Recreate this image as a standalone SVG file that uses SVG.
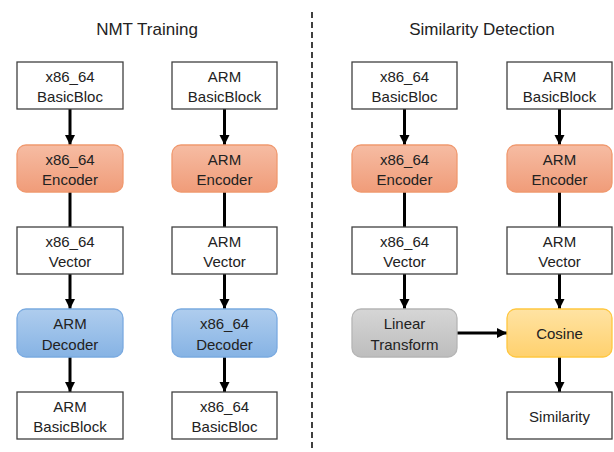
<svg xmlns="http://www.w3.org/2000/svg" width="614" height="452" viewBox="0 0 614 452">
<defs>
<linearGradient id="gOr" x1="0" y1="0" x2="0" y2="1"><stop offset="0" stop-color="#F6BCA3"/><stop offset="1" stop-color="#F09C79"/></linearGradient>
<linearGradient id="gBl" x1="0" y1="0" x2="0" y2="1"><stop offset="0" stop-color="#AFCDEE"/><stop offset="1" stop-color="#86B3E4"/></linearGradient>
<linearGradient id="gGr" x1="0" y1="0" x2="0" y2="1"><stop offset="0" stop-color="#D6D6D6"/><stop offset="1" stop-color="#BDBDBD"/></linearGradient>
<linearGradient id="gYe" x1="0" y1="0" x2="0" y2="1"><stop offset="0" stop-color="#FFE3A3"/><stop offset="1" stop-color="#FFD16E"/></linearGradient>
<marker id="ah" viewBox="0 0 10 10" refX="10" refY="5" markerWidth="3.4" markerHeight="3.4" orient="auto" markerUnits="strokeWidth"><path d="M0,0 L10,5 L0,10 Z" fill="#000"/></marker>
</defs>
<style>
.t{font-family:"Liberation Sans",Arial,sans-serif;font-size:15px;fill:#222;text-anchor:middle}
.h{font-family:"Liberation Sans",Arial,sans-serif;font-size:17px;fill:#222;text-anchor:middle}
.w{fill:#fff;stroke:#404040;stroke-width:1.3}
.or{fill:url(#gOr);stroke:#F0996F;stroke-width:1.3}
.bl{fill:url(#gBl);stroke:#7AAAE0;stroke-width:1.3}
.gr{fill:url(#gGr);stroke:#B5B5B5;stroke-width:1.3}
.ye{fill:url(#gYe);stroke:#FFC740;stroke-width:1.3}
.c{stroke:#000;stroke-width:3;fill:none}
.a{stroke:#000;stroke-width:3;fill:none;marker-end:url(#ah)}
</style>
<text class="h" x="147" y="35">NMT Training</text>
<text class="h" x="482" y="35">Similarity Detection</text>
<line x1="312" y1="12" x2="312" y2="452" stroke="#000" stroke-width="1.5" stroke-dasharray="6,4"/>
<g id="connectors">
<line class="a" x1="70" y1="109" x2="70" y2="145"/>
<line class="c" x1="70" y1="192" x2="70" y2="227"/>
<line class="a" x1="70" y1="274" x2="70" y2="309"/>
<line class="a" x1="70" y1="357" x2="70" y2="392"/>
<line class="a" x1="224.5" y1="109" x2="224.5" y2="145"/>
<line class="c" x1="224.5" y1="192" x2="224.5" y2="227"/>
<line class="a" x1="224.5" y1="274" x2="224.5" y2="309"/>
<line class="a" x1="224.5" y1="357" x2="224.5" y2="392"/>
<line class="a" x1="404.5" y1="109" x2="404.5" y2="145"/>
<line class="c" x1="404.5" y1="192" x2="404.5" y2="227"/>
<line class="a" x1="404.5" y1="274" x2="404.5" y2="309"/>
<line class="a" x1="559.5" y1="109" x2="559.5" y2="145"/>
<line class="c" x1="559.5" y1="192" x2="559.5" y2="227"/>
<line class="a" x1="559.5" y1="274" x2="559.5" y2="309"/>
<line class="a" x1="559.5" y1="357" x2="559.5" y2="392"/>
<line class="a" x1="456" y1="333" x2="507" y2="333"/>
</g>
<g id="l_bb1"><rect class="w" x="17" y="62" width="106" height="47"/><text class="t" x="70" y="82">x86_64</text><text class="t" x="70" y="102">BasicBloc</text></g>
<g id="l_enc1"><rect class="or" x="17" y="145" width="106" height="47" rx="9"/><text class="t" x="70" y="165">x86_64</text><text class="t" x="70" y="185">Encoder</text></g>
<g id="l_vec1"><rect class="w" x="17" y="227" width="106" height="47"/><text class="t" x="70" y="247">x86_64</text><text class="t" x="70" y="267">Vector</text></g>
<g id="l_dec1"><rect class="bl" x="17" y="309" width="106" height="48" rx="9"/><text class="t" x="70" y="329">ARM</text><text class="t" x="70" y="350">Decoder</text></g>
<g id="l_out1"><rect class="w" x="17" y="392" width="106" height="47"/><text class="t" x="70" y="412">ARM</text><text class="t" x="70" y="432">BasicBlock</text></g>
<g id="l_bb2"><rect class="w" x="172" y="62" width="105" height="47"/><text class="t" x="224.5" y="82">ARM</text><text class="t" x="224.5" y="102">BasicBlock</text></g>
<g id="l_enc2"><rect class="or" x="172" y="145" width="105" height="47" rx="9"/><text class="t" x="224.5" y="165">ARM</text><text class="t" x="224.5" y="185">Encoder</text></g>
<g id="l_vec2"><rect class="w" x="172" y="227" width="105" height="47"/><text class="t" x="224.5" y="247">ARM</text><text class="t" x="224.5" y="267">Vector</text></g>
<g id="l_dec2"><rect class="bl" x="172" y="309" width="105" height="48" rx="9"/><text class="t" x="224.5" y="329">x86_64</text><text class="t" x="224.5" y="350">Decoder</text></g>
<g id="l_out2"><rect class="w" x="172" y="392" width="105" height="47"/><text class="t" x="224.5" y="412">x86_64</text><text class="t" x="224.5" y="432">BasicBloc</text></g>
<g id="r_bb1"><rect class="w" x="352" y="62" width="105" height="47"/><text class="t" x="404.5" y="82">x86_64</text><text class="t" x="404.5" y="102">BasicBloc</text></g>
<g id="r_enc1"><rect class="or" x="352" y="145" width="105" height="47" rx="9"/><text class="t" x="404.5" y="165">x86_64</text><text class="t" x="404.5" y="185">Encoder</text></g>
<g id="r_vec1"><rect class="w" x="352" y="227" width="105" height="47"/><text class="t" x="404.5" y="247">x86_64</text><text class="t" x="404.5" y="267">Vector</text></g>
<g id="r_lin"><rect class="gr" x="352" y="309" width="105" height="48" rx="9"/><text class="t" x="404.5" y="329">Linear</text><text class="t" x="404.5" y="350">Transform</text></g>
<g id="r_bb2"><rect class="w" x="507" y="62" width="105" height="47"/><text class="t" x="559.5" y="82">ARM</text><text class="t" x="559.5" y="102">BasicBlock</text></g>
<g id="r_enc2"><rect class="or" x="507" y="145" width="105" height="47" rx="9"/><text class="t" x="559.5" y="165">ARM</text><text class="t" x="559.5" y="185">Encoder</text></g>
<g id="r_vec2"><rect class="w" x="507" y="227" width="105" height="47"/><text class="t" x="559.5" y="247">ARM</text><text class="t" x="559.5" y="267">Vector</text></g>
<g id="r_cos"><rect class="ye" x="507" y="309" width="105" height="48" rx="9"/><text class="t" x="559.5" y="339">Cosine</text></g>
<g id="r_sim"><rect class="w" x="507" y="392" width="105" height="47"/><text class="t" x="559.5" y="422">Similarity</text></g>
</svg>
